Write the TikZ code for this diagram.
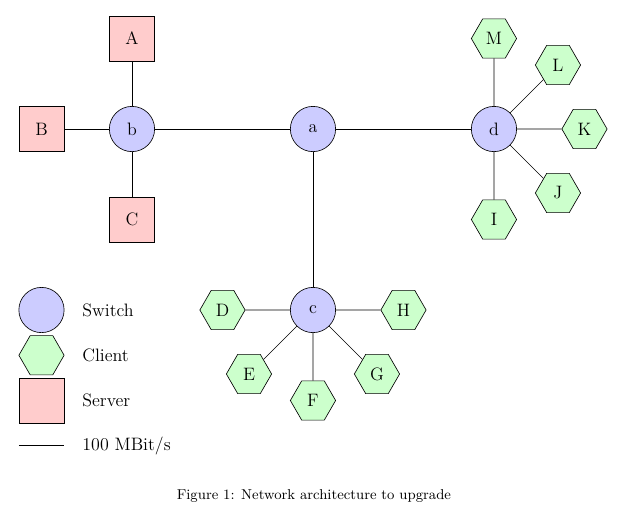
\documentclass[tikz,border=0pt]{standalone}
\usetikzlibrary{shapes.geometric, calc}

\begin{document}
\begin{tikzpicture}[
        every node/.style = {font=\fontsize{11.3}{13.5}\selectfont},
        switch/.style = {circle, draw, fill=blue!20, minimum size=1cm, inner sep=0pt}, % Коммутатор
        client/.style = {regular polygon, regular polygon sides=6, draw, fill=green!20, minimum size=1cm, inner sep=0pt}, % Клиент
        server/.style = {rectangle, draw, fill=red!20, minimum size=1cm, inner sep=0pt}, % Сервер
        legtext/.style = {anchor=west},
    ]
    \useasboundingbox (-6.917,2.851) rectangle (7.249,-8.399);

    % Коммутаторы
    \node[switch] (a) at (0,0) {a};
    \node[switch] (b) at (-4,0) {b};
    \node[switch] (c) at (0,-4) {c};
    \node[switch] (d) at (4,0) {d};

    % Серверы
    \node[server] (A) at (-4,2) {A};
    \node[server] (B) at (-6,0) {B};
    \node[server] (C) at (-4,-2) {C};

    % Клиенты
    \node[client] (D) at ($(c)+(180:2)$) {D};
    \node[client] (E) at ($(c)+(225:2)$) {E};
    \node[client] (F) at ($(c)+(270:2)$) {F};
    \node[client] (G) at ($(c)+(315:2)$) {G};
    \node[client] (H) at ($(c)+(0:2)$) {H};
    \node[client] (I) at ($(d)+(270:2)$) {I};
    \node[client] (J) at ($(d)+(315:2)$) {J};
    \node[client] (K) at ($(d)+(0:2)$) {K};
    \node[client] (L) at ($(d)+(45:2)$) {L};
    \node[client] (M) at ($(d)+(90:2)$) {M};

    % Связи
    \draw (b) -- (a) -- (d);
    \draw (a) -- (c);
    \foreach \s in {A,B,C} \draw (b) -- (\s);
    \foreach \s in {D,E,F,G,H} \draw (c) -- (\s);
    \foreach \s in {I,J,K,L,M} \draw (d) -- (\s);

    % Легенда
    \node[switch] (lsw) at (-6,-4) {};
    \node[client] (lcl) at (-6,-5) {};
    \node[server] (lsv) at (-6,-6) {};
    \coordinate (lla) at (-6.5,-7);
    \coordinate (llb) at (-5.5,-7);
    \draw (lla) -- (llb);
    \node[legtext] (tsw) at (-5.22,-4) {Switch};
    \node[legtext] (tcl) at (-5.22,-5) {Client};
    \node[legtext] (tsv) at (-5.22,-6) {Server};
    \node[legtext] (tll) at (-5.22,-7) {100 MBit/s};

    \node[font=\small] (cap) at (0.02,-8.1) {Figure 1: Network architecture to upgrade};
\end{tikzpicture}
\end{document}
